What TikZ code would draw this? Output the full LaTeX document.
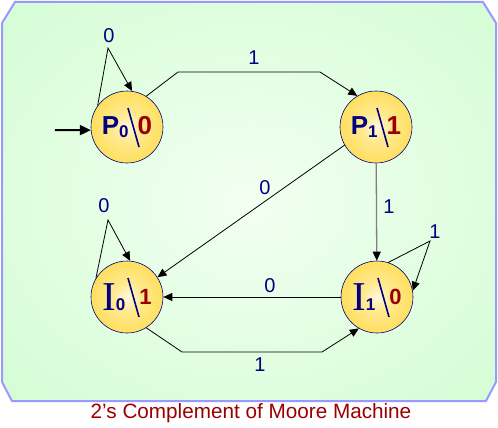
\documentclass[tikz,border=0pt]{standalone}
\usepackage{fontspec}
\setmainfont{Liberation Sans}
\newfontfamily\serifI{Liberation Serif}
\usetikzlibrary{arrows.meta}
\definecolor{navy}{HTML}{000080}
\definecolor{outred}{HTML}{990000}
\definecolor{frameblue}{HTML}{9999FF}
\definecolor{ballin}{HTML}{FFF8D8}
\definecolor{ballmid}{HTML}{FFDD55}
\definecolor{ballout}{HTML}{FFC810}
\definecolor{bgin}{HTML}{F2FFF2}
\definecolor{bgout}{HTML}{C8FCC8}
\pgfdeclareradialshading{ball}{\pgfpoint{0bp}{0bp}}{color(0bp)=(ballin); color(10bp)=(ballin!45!ballmid); color(28bp)=(ballmid); color(45bp)=(ballout); color(50bp)=(ballout!92!black); color(72bp)=(ballout)}
\pgfdeclareradialshading{bgshade}{\pgfpoint{0bp}{0bp}}{color(0bp)=(bgin); color(50bp)=(bgout); color(72bp)=(bgout)}
\newcommand{\pst}[2]{{\fontsize{26}{26}\selectfont\bfseries P}\raisebox{-3pt}{\fontsize{17}{17}\selectfont\bfseries #1}\hspace{9pt}{\color{outred}\fontsize{26}{26}\selectfont\bfseries #2}}
\newcommand{\ist}[2]{{\serifI\fontsize{41}{41}\selectfont I}{\fontsize{17}{17}\selectfont\bfseries #1}\hspace{14pt}\raisebox{6pt}{\color{outred}\fontsize{22}{22}\selectfont\bfseries #2}}
\tikzset{
  st/.style={circle,draw=navy,line width=0.6pt,minimum size=72pt,inner sep=0pt,
    shading=ball,text=navy,
    path picture={\draw[line width=1.6pt] (path picture bounding box.center) ++(1,-19) -- ++(11,39);}},
  edge/.style={line width=0.8pt,-{Triangle[length=9pt,width=8pt]}},
  lbl/.style={text=navy,font=\fontsize{20}{20}\selectfont,inner sep=0pt}
}
\begin{document}
\begin{tikzpicture}[x=1pt,y=-1pt]
\useasboundingbox (0,0) rectangle (498,428);
\draw[frameblue,line width=2pt,shading=bgshade] (2,23)--(15,2)--(483,2)--(496,23)--(496,382)--(486,401)--(12,401)--(2,382)--cycle;
\node[st] (P0) at (127,127) {\pst{0}{0}};
\node[st] (P1) at (376,127) {\pst{1}{1}};
\node[st] (I0) at (127,297) {\ist{0}{1}};
\node[st] (I1) at (377,297) {\ist{1}{0}};
\coordinate (start) at (55,130);
\coordinate (p0loop) at (108,48);
\coordinate (i0loop) at (108,220);
\coordinate (i1loop) at (430,241);
\coordinate (b1) at (178,72);
\coordinate (b2) at (320,72);
\coordinate (b3) at (182,352);
\coordinate (b4) at (322,352);
\draw[line width=2pt,-{Triangle[length=11pt,width=10pt]}] (start) -- (P0.185);
\draw[edge] (P0.144) -- (p0loop) -- (P0.82);
\draw[edge] (P0.58) -- (b1) -- (b2) -- (P1.121);
\draw[edge] (P1.210) -- (I0.33);
\draw[line width=1.3pt,gray,-{Triangle[length=9pt,width=8pt,black]}] (P1) -- (I1);
\draw[edge] (I1.72) -- (i1loop) -- (I1.10);
\draw[edge] (I1) -- (I0);
\draw[edge] (I0.-58) -- (b3) -- (b4) -- (I1.240);
\draw[edge] (I0.149) -- (i0loop) -- (I0.85);
\node[lbl] (l1) at (109,36) {0};
\node[lbl] (l2) at (254,58) {1};
\node[lbl] (l3) at (265,188) {0};
\node[lbl] (l4) at (389,207) {1};
\node[lbl] (l5) at (435,232) {1};
\node[lbl] (l6) at (104,206) {0};
\node[lbl] (l7) at (270,286) {0};
\node[lbl] (l8) at (260,365) {1};
\node[text=outred,font=\fontsize{20.7}{20.7}\selectfont] (title) at (251,413) {2’s Complement of Moore Machine};
\end{tikzpicture}
\end{document}
